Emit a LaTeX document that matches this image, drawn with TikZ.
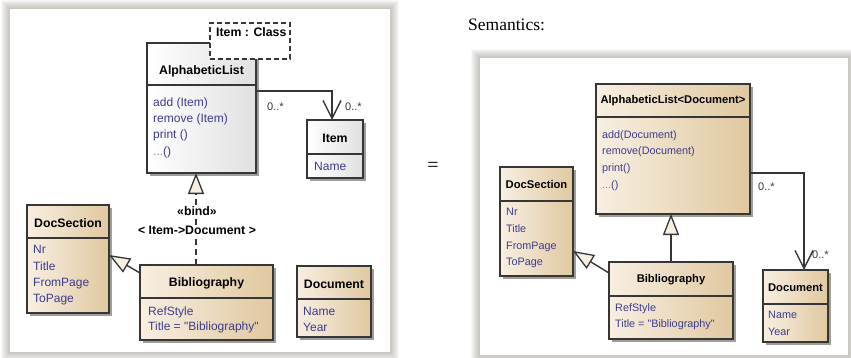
\documentclass[tikz,border=0pt]{standalone}
\usepackage{fontspec}
\newfontfamily\umlfont{Liberation Sans}
\newfontfamily\docfont{Liberation Serif}
\usetikzlibrary{arrows.meta,calc}

\definecolor{tanL}{HTML}{F8EFE2}
\definecolor{tanR}{HTML}{E0C8A0}
\definecolor{greyR}{HTML}{E0E0E0}
\definecolor{linec}{HTML}{363636}
\definecolor{attc}{HTML}{3C3C8C}
\definecolor{dimc}{HTML}{8A8AAE}
\definecolor{shadowc}{HTML}{A29D96}
\definecolor{framec}{HTML}{5A5040}
\definecolor{trifill}{HTML}{F7F0E2}

% soft grey frame behind a white sheet
\newcommand{\sheet}[4]{%
  \foreach \d in {1,...,9}{\fill[framec,opacity=0.045] (#1-\d,#2-\d) rectangle (#3+\d,#4+\d);}
  \fill[white] (#1,#2) rectangle (#3,#4);}
% drop shadow of a class box
\newcommand{\boxshadow}[4]{\fill[shadowc] (#1+3,#2+3) rectangle (#3+3,#4+3);}

\begin{document}
\begin{tikzpicture}[x=1pt,y=-1pt,
  umlbox/.style={draw=linec,line width=1.5pt,inner sep=0pt,outer sep=0pt,anchor=north west},
  tanbox/.style={left color=tanL,right color=tanR},
  whitebox/.style={left color=white,right color=greyR},
  divline/.style={draw=linec,line width=1.3pt},
  ttlA/.style={font=\umlfont\bfseries\fontsize{12.3}{14}\selectfont,inner sep=0pt},
  attA/.style={font=\umlfont\fontsize{12}{14}\selectfont,text=attc,anchor=west,inner sep=0pt,text height=9pt,text depth=1pt},
  ttlB/.style={font=\umlfont\bfseries\fontsize{11.2}{13}\selectfont,inner sep=0pt},
  attB/.style={font=\umlfont\fontsize{10.8}{13}\selectfont,text=attc,anchor=west,inner sep=0pt,text height=8pt,text depth=1pt},
  mult/.style={font=\umlfont\fontsize{11}{13}\selectfont,text=linec,inner sep=0pt,anchor=west},
  conn/.style={draw=linec,line width=1.4pt},
  genhead/.style={-{Triangle[length=21pt,width=16pt,fill=trifill,line width=1.3pt]}},
  assoc/.style={-{Straight Barb[length=18pt,width=18pt,line width=1.4pt]}},
]
\useasboundingbox (0,0) rectangle (851,357);

% ---------------- template definition ----------------
\sheet{10}{9}{390}{352}

\boxshadow{147}{43}{256}{173}
\node[umlbox,whitebox,minimum width=109pt,minimum height=130pt] (al) at (147,43) {};
\draw[divline] (al.west |- 0,85) -- (al.east |- 0,85);
\node[draw=linec,dash pattern=on 5pt off 3pt,line width=1.6pt,fill=white,minimum width=80pt,minimum height=36pt,anchor=north west,inner sep=0pt] (tpl) at (209,22) {};
\node[ttlA,anchor=west] (tpl-t) at (216,32) {Item : Class};
\node[ttlA] (al-t) at (201.5,71) {AlphabeticList};
\node[attA] (al-o1) at (153,102) {add (Item)};
\node[attA] (al-o2) at (153,118) {remove (Item)};
\node[attA] (al-o3) at (153,134) {print ()};
\node[attA] (al-o4) at (153,151) {\textcolor{dimc}{...}()};

\boxshadow{307}{120}{363}{178}
\node[umlbox,whitebox,minimum width=56pt,minimum height=58pt] (item) at (307,120) {};
\draw[divline] (item.west |- 0,154) -- (item.east |- 0,154);
\node[ttlA] (item-t) at (335,138) {Item};
\node[attA] (item-a1) at (314,166) {Name};

\boxshadow{27}{205}{109}{313}
\node[umlbox,tanbox,minimum width=82pt,minimum height=108pt] (ds) at (27,205) {};
\draw[divline] (ds.west |- 0,238) -- (ds.east |- 0,238);
\node[ttlA] (ds-t) at (68,223) {DocSection};
\node[attA] (ds-a1) at (33,249) {Nr};
\node[attA] (ds-a2) at (33,266) {Title};
\node[attA] (ds-a3) at (33,282) {FromPage};
\node[attA] (ds-a4) at (33,298) {ToPage};

\boxshadow{140}{265}{273}{340}
\node[umlbox,tanbox,minimum width=133pt,minimum height=75pt] (bib) at (140,265) {};
\draw[divline] (bib.west |- 0,298) -- (bib.east |- 0,298);
\node[ttlA] (bib-t) at (206.5,283) {Bibliography};
\node[attA] (bib-a1) at (148,311) {RefStyle};
\node[attA] (bib-a2) at (148,326) {Title = "Bibliography"};

\boxshadow{297}{266}{371}{337}
\node[umlbox,tanbox,minimum width=74pt,minimum height=71pt] (doc) at (297,266) {};
\draw[divline] (doc.west |- 0,299) -- (doc.east |- 0,299);
\node[ttlA] (doc-t) at (334,284) {Document};
\node[attA] (doc-a1) at (303,311) {Name};
\node[attA] (doc-a2) at (303,327) {Year};

% connectors
\draw[conn,assoc] ([yshift=-48pt]al.north east) -| ([xshift=-3pt]item.north);
\node[mult] (m1) at (267,107) {0..*};
\node[mult] (m2) at (345,107) {0..*};
\draw[conn,dash pattern=on 6pt off 4pt,genhead] ([xshift=-10.5pt]bib.north) -- ([xshift=-10.5pt]bib.north |- al.south);
\node[ttlA,fill=white,inner sep=1pt] (bind) at (197,211) {«bind»};
\node[ttlA,fill=white,inner sep=1pt] (bindarg) at (197,230) {< Item->Document >};
\draw[conn,genhead] ([yshift=-8pt]bib.north west) -- ([yshift=-50pt]ds.north east);

% ---------------- equals sign and heading ----------------
\node[font=\docfont\fontsize{20}{22}\selectfont,inner sep=0pt] (eq) at (433,167) {=};
\node[font=\docfont\fontsize{17.5}{20}\selectfont,inner sep=0pt,anchor=west] (sem) at (468,25) {Semantics:};

% ---------------- bound class ----------------
\sheet{480}{58}{848}{355}

\boxshadow{596}{84}{750}{214}
\node[umlbox,tanbox,minimum width=154pt,minimum height=130pt] (al2) at (596,84) {};
\draw[divline] (al2.west |- 0,117) -- (al2.east |- 0,117);
\node[ttlB] (al2-t) at (673,101) {AlphabeticList<Document>};
\node[attB] (al2-o1) at (602,135) {add(Document)};
\node[attB] (al2-o2) at (602,151) {remove(Document)};
\node[attB] (al2-o3) at (602,168) {print()};
\node[attB] (al2-o4) at (602,185) {\textcolor{dimc}{...}()};

\boxshadow{500}{167}{573}{276}
\node[umlbox,tanbox,minimum width=73pt,minimum height=109pt] (ds2) at (500,167) {};
\draw[divline] (ds2.west |- 0,201) -- (ds2.east |- 0,201);
\node[ttlB] (ds2-t) at (536.5,184) {DocSection};
\node[attB] (ds2-a1) at (506,212) {Nr};
\node[attB] (ds2-a2) at (506,229) {Title};
\node[attB] (ds2-a3) at (506,246) {FromPage};
\node[attB] (ds2-a4) at (506,262) {ToPage};

\boxshadow{609}{262}{733}{339}
\node[umlbox,tanbox,minimum width=124pt,minimum height=77pt] (bib2) at (609,262) {};
\draw[divline] (bib2.west |- 0,296) -- (bib2.east |- 0,296);
\node[ttlB] (bib2-t) at (671,280) {Bibliography};
\node[attB] (bib2-a1) at (615,308) {RefStyle};
\node[attB] (bib2-a2) at (615,324) {Title = "Bibliography"};

\boxshadow{763}{270}{828}{342}
\node[umlbox,tanbox,minimum width=65pt,minimum height=72pt] (doc2) at (763,270) {};
\draw[divline] (doc2.west |- 0,304) -- (doc2.east |- 0,304);
\node[ttlB] (doc2-t) at (795.5,288) {Document};
\node[attB] (doc2-a1) at (768,315) {Name};
\node[attB] (doc2-a2) at (768,332) {Year};

% connectors
\draw[conn,assoc] ([yshift=-89pt]al2.north east) -| ([xshift=8.5pt]doc2.north);
\node[mult] (m3) at (758,187) {0..*};
\node[mult] (m4) at (812,255) {0..*};
\draw[conn,genhead] (bib2.north) -- (bib2.north |- al2.south);
\draw[conn,genhead] ([yshift=-11pt]bib2.north west) -- ([yshift=-84pt]ds2.north east);
\end{tikzpicture}
\end{document}
